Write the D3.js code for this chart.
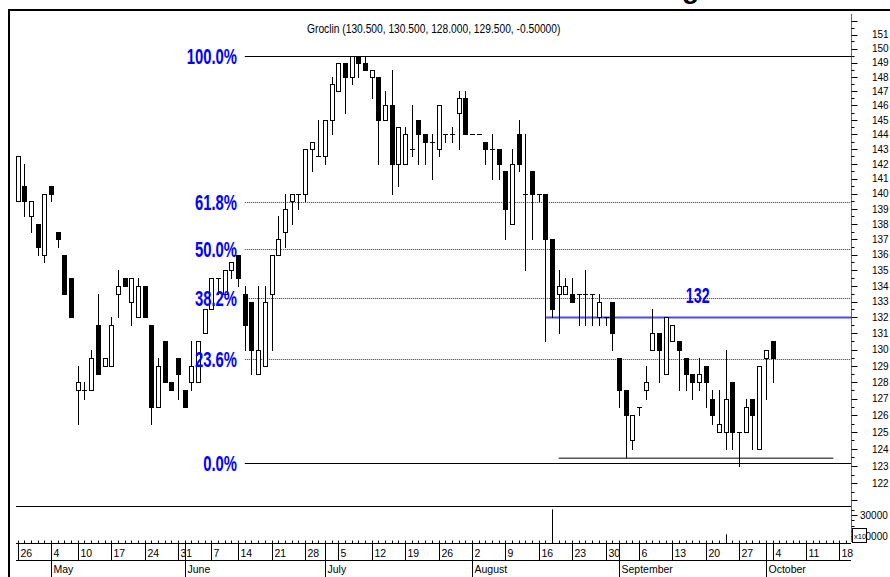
<!DOCTYPE html>
<html>
<head>
<meta charset="utf-8">
<script src="https://cdn.jsdelivr.net/npm/d3@7"></script>
<style>
  body { margin: 0; background: #fff; }
  svg { display: block; }
</style>
</head>
<body>
<div id="chart"></div>
<script>
// Groclin daily candles, 26 Apr - 4 Oct 2004
const openP = [
  139.5,140.5,138.5,138.0,136.0,140.5,137.5,136.0,134.5,127.5,
  127.5,127.5,131.5,129.0,129.0,133.5,134.5,133.0,132.0,134.0,
  131.5,126.5,130.5,128.0,129.5,127.5,128.0,128.0,131.0,132.5,
  134.5,133.5,135.0,136.0,133.5,133.0,128.5,129.0,133.5,136.0,
  137.5,139.5,140.0,140.0,143.0,142.5,142.5,145.0,147.0,149.0,
  148.0,149.5,149.0,148.0,148.0,145.0,146.0,142.0,142.0,143.0,
  145.0,144.0,143.5,143.0,144.0,144.0,145.5,146.5,144.0,144.0,
  143.5,143.0,143.0,141.5,138.0,144.0,140.0,141.5,140.0,140.0,
  137.0,133.5,133.5,133.5,133.5,133.5,133.5,132.0,132.0,133.0,
  129.5,127.5,124.5,126.5,127.5,130.0,131.0,128.5,130.5,130.5,
  129.5,128.5,128.0,129.0,127.0,125.0,125.0,128.0,125.0,125.0,
  127.0,124.0,129.5,130.5
];
const highP = [
  142.5,142.0,139.5,138.0,140.0,140.5,137.5,136.0,134.5,129.0,
  128.0,130.0,133.5,129.5,132.0,135.0,134.5,134.5,134.5,134.0,
  131.5,129.5,130.5,128.0,129.5,127.5,130.5,130.5,132.5,134.5,
  134.5,135.0,135.5,136.0,134.0,133.0,134.0,134.0,136.0,138.5,
  140.0,140.0,140.0,143.0,143.5,145.0,145.0,148.0,149.0,149.0,
  149.5,149.5,149.5,148.5,148.0,147.0,148.5,144.5,144.5,146.0,
  145.0,144.0,144.0,146.0,144.0,144.5,147.0,147.0,144.0,144.0,
  143.5,144.0,143.0,141.5,143.0,145.0,144.0,141.5,140.0,140.0,
  137.0,135.0,134.5,134.5,133.5,135.0,133.5,133.5,132.0,133.0,
  129.5,127.5,126.0,126.5,129.0,132.5,131.0,132.0,131.5,130.5,
  129.5,128.5,129.5,129.0,127.5,127.5,130.0,128.0,125.0,127.0,
  127.0,129.0,130.0,130.5
];
const lowP = [
  139.5,138.5,137.5,136.0,135.5,139.5,136.5,133.5,132.0,125.5,
  127.0,127.5,128.5,129.0,129.0,132.0,134.0,131.5,132.0,132.0,
  125.5,126.5,128.0,127.5,127.0,126.5,127.5,128.0,131.0,132.5,
  133.5,133.5,134.5,134.0,130.0,128.5,128.5,129.0,130.0,136.0,
  136.5,138.0,139.0,139.5,141.5,142.5,142.0,144.0,147.0,145.5,
  147.5,148.0,148.5,146.5,142.0,145.0,140.0,140.5,142.0,142.5,
  142.0,142.0,141.0,142.5,143.5,143.5,143.0,144.0,144.0,144.0,
  142.0,141.0,141.0,137.0,138.0,141.5,135.0,137.0,139.5,130.5,
  132.0,131.0,133.5,133.0,131.5,131.5,131.5,131.5,131.5,130.0,
  126.5,123.5,124.0,126.0,127.0,130.0,128.0,128.5,130.5,127.5,
  127.5,127.0,127.5,126.5,125.5,125.0,124.0,124.0,123.0,125.0,
  124.0,124.0,127.0,128.0
];
const closeP = [
  142.5,139.5,139.5,136.5,140.0,140.0,137.0,133.5,132.0,128.0,
  127.5,129.5,128.5,129.5,131.5,134.0,134.0,134.5,134.0,132.0,
  126.5,129.0,128.0,127.5,128.5,126.5,129.0,130.5,132.5,134.5,
  134.5,135.0,135.5,134.5,131.5,130.0,130.0,133.0,136.0,137.0,
  139.0,140.0,140.0,143.0,143.5,142.5,145.0,147.5,149.0,148.0,
  149.5,149.0,148.5,148.5,145.0,146.0,142.0,144.5,144.0,143.0,
  144.0,143.5,143.5,146.0,144.0,144.0,146.5,144.0,144.0,144.0,
  143.0,143.0,142.0,139.0,142.0,142.0,140.0,140.0,140.0,137.0,
  132.5,134.0,134.0,133.0,133.5,133.5,133.5,133.0,132.0,131.0,
  127.5,126.0,126.0,126.5,128.0,131.0,130.0,132.0,131.5,130.0,
  128.5,128.0,128.5,128.0,126.0,125.5,127.0,125.0,125.0,126.5,
  126.0,129.0,130.0,129.5
];

// volume (x10), only the bars that rise into view
const volDay = [80, 106];
const volValue = [32700, 20800];

const fibHigh = 149.5;
const fibLow = 123.2;
const fibLevels = [0, 0.236, 0.382, 0.5, 0.618, 1];
const fibNames = ["0.0%", "23.6%", "38.2%", "50.0%", "61.8%", "100.0%"];
const resistance = 132;
const supportLevel = 123.45;

const startDate = "2004-04-26";
const holidays = ["2004-05-03", "2004-06-10"];
const title = "Groclin (130.500, 130.500, 128.000, 129.500, -0.50000)";

const width = 890;
const height = 577;
const blue = "#0000ff";
const font = "'Liberation Sans', Arial, sans-serif";

// trading days (weekends + exchange holidays removed)
const parse = d3.timeParse("%Y-%m-%d");
const fmt = d3.timeFormat("%Y-%m-%d");
const days = [];
for (let d = parse(startDate); days.length < 126; d = d3.timeDay.offset(d, 1)) {
  const wd = d.getDay();
  if (wd === 0 || wd === 6 || holidays.includes(fmt(d))) continue;
  days.push(d);
}

const x = d3.scaleLinear().domain([-0.25, 124.75]).range([16, 851]);
const y = d3.scaleLog().domain([150, 123]).range([48.5, 466]);
const yv = d3.scaleLinear().domain([20000, 30000]).range([536, 515]);

const svg = d3.select("#chart").append("svg")
    .attr("width", width)
    .attr("height", height)
    .style("font-family", font);

svg.append("rect").attr("width", width).attr("height", height).attr("fill", "#fff");

// cut-off big title at the very top
svg.append("text")
    .attr("x", 682).attr("y", -2.5)
    .attr("font-size", 28).attr("font-weight", "bold")
    .text("g");

// frame
svg.append("line").attr("x1", 8).attr("x2", width).attr("y1", 10).attr("y2", 10)
    .attr("stroke", "#000").attr("stroke-width", 2);
svg.append("line").attr("x1", 9).attr("x2", 9).attr("y1", 9).attr("y2", height)
    .attr("stroke", "#000").attr("stroke-width", 2);

// title
svg.append("text")
    .attr("transform", "translate(307,33) scale(0.82,1)")
    .attr("font-size", 12.5)
    .text(title);

// fibonacci lines
const fib = fibLevels.map((lv, k) => ({
  lv, name: fibNames[k], price: fibLow + (fibHigh - fibLow) * lv
}));
const fibStart = x(34);

svg.append("g").selectAll("line")
  .data(fib)
  .join("line")
    .attr("x1", fibStart).attr("x2", 851)
    .attr("y1", d => Math.round(y(d.price)) + 0.5)
    .attr("y2", d => Math.round(y(d.price)) + 0.5)
    .attr("stroke", d => (d.lv === 0 || d.lv === 1) ? "#000" : "#333")
    .attr("stroke-dasharray", d => (d.lv === 0 || d.lv === 1) ? null : "1,1");

// 132 resistance
svg.append("line")
    .attr("x1", x(79.1)).attr("x2", 851)
    .attr("y1", y(resistance)).attr("y2", y(resistance))
    .attr("stroke", "#4848ff").attr("stroke-width", 2);

// support under the double bottom
svg.append("line")
    .attr("x1", x(81)).attr("x2", x(122.1))
    .attr("y1", y(supportLevel)).attr("y2", y(supportLevel))
    .attr("stroke", "#555").attr("stroke-width", 1.5);

// candles
const candles = openP.map((o, i) => ({ i, o, h: highP[i], l: lowP[i], c: closeP[i] }));
const cx = i => Math.round(x(i));
const gC = svg.append("g");

gC.selectAll("line.wick")
  .data(candles)
  .join("line")
    .attr("class", "wick")
    .attr("x1", d => cx(d.i) + 0.5).attr("x2", d => cx(d.i) + 0.5)
    .attr("y1", d => Math.round(y(d.h)))
    .attr("y2", d => Math.round(y(d.l)) + 1)
    .attr("stroke", "#000");

const bodies = candles.filter(d => Math.round(y(d.o)) !== Math.round(y(d.c)));
const dojis = candles.filter(d => Math.round(y(d.o)) === Math.round(y(d.c)));

gC.selectAll("rect.body")
  .data(bodies)
  .join("rect")
    .attr("class", "body")
    .attr("x", d => d.c > d.o ? cx(d.i) - 1.5 : cx(d.i) - 2)
    .attr("y", d => {
      const t = Math.round(y(Math.max(d.o, d.c)));
      return d.c > d.o ? t + 0.5 : t;
    })
    .attr("width", d => d.c > d.o ? 4 : 5)
    .attr("height", d => {
      const t = Math.round(y(Math.max(d.o, d.c)));
      const b = Math.round(y(Math.min(d.o, d.c)));
      return d.c > d.o ? b - t : b - t + 1;
    })
    .attr("fill", d => d.c > d.o ? "#fff" : "#000")
    .attr("stroke", d => d.c > d.o ? "#000" : "none");

gC.selectAll("line.doji")
  .data(dojis)
  .join("line")
    .attr("class", "doji")
    .attr("x1", d => cx(d.i) - 2).attr("x2", d => cx(d.i) + 3)
    .attr("y1", d => Math.round(y(d.c)) + 0.5)
    .attr("y2", d => Math.round(y(d.c)) + 0.5)
    .attr("stroke", "#000");

// level labels drawn over the candles
svg.append("g").selectAll("text")
  .data(fib)
  .join("text")
    .attr("transform", d => `translate(237,${y(d.price) + 8}) scale(0.69,1)`)
    .attr("text-anchor", "end")
    .attr("font-size", 21.5)
    .attr("font-weight", "bold")
    .attr("fill", blue)
    .text(d => d.name);

svg.append("text")
    .attr("transform", `translate(${x(101.8)},${y(resistance) - 14.5}) scale(0.66,1)`)
    .attr("text-anchor", "middle")
    .attr("font-size", 21.5).attr("font-weight", "bold")
    .attr("fill", blue)
    .text(String(resistance));

// price axis on the right
const axisX = 851.5;
svg.append("line").attr("x1", axisX).attr("x2", axisX).attr("y1", 14).attr("y2", 541)
    .attr("stroke", "#666");
const priceTicks = d3.range(121, 152.5, 0.5);
svg.append("g").selectAll("line")
  .data(priceTicks)
  .join("line")
    .attr("x1", axisX).attr("x2", d => d % 1 === 0 ? axisX + 6 : axisX + 3)
    .attr("y1", d => Math.round(y(d)) + 0.5).attr("y2", d => Math.round(y(d)) + 0.5)
    .attr("stroke", "#000");
svg.append("g").selectAll("text")
  .data(d3.range(122, 152))
  .join("text")
    .attr("x", 872).attr("y", d => y(d) + 3.8)
    .attr("font-size", 10)
    .text(d => d);

// volume panel
svg.append("line").attr("x1", 16).attr("x2", 851).attr("y1", 506.5).attr("y2", 506.5)
    .attr("stroke", "#000");
svg.append("g").selectAll("line")
  .data(volDay)
  .join("line")
    .attr("x1", d => cx(d) + 0.5).attr("x2", d => cx(d) + 0.5)
    .attr("y1", (d, k) => yv(volValue[k])).attr("y2", 541)
    .attr("stroke", "#000");
svg.append("g").selectAll("line")
  .data(d3.range(17500, 33000, 2500))
  .join("line")
    .attr("x1", axisX).attr("x2", d => d % 10000 === 0 ? axisX + 6 : axisX + 3)
    .attr("y1", d => Math.round(yv(d)) + 0.5).attr("y2", d => Math.round(yv(d)) + 0.5)
    .attr("stroke", "#000");
svg.append("g").selectAll("text")
  .data([30000, 20000])
  .join("text")
    .attr("x", 860).attr("y", d => yv(d) + 3.8)
    .attr("font-size", 10)
    .text(d => d);
svg.append("rect").attr("x", 852.5).attr("y", 528.5).attr("width", 14).attr("height", 14)
    .attr("fill", "#fff").attr("stroke", "#000");
svg.append("text").attr("x", 854).attr("y", 538.5).attr("font-size", 7.5).text("x10");

// date axis
const gD = svg.append("g");
const dayIdx = d3.range(0, 125);
gD.append("line").attr("x1", 16).attr("x2", 851).attr("y1", 543.5).attr("y2", 543.5).attr("stroke", "#000");
gD.append("line").attr("x1", 16).attr("x2", 851).attr("y1", 560.5).attr("y2", 560.5).attr("stroke", "#000");
gD.selectAll("line.dtick")
  .data(dayIdx)
  .join("line")
    .attr("class", "dtick")
    .attr("x1", d => cx(d) + 0.5).attr("x2", d => cx(d) + 0.5)
    .attr("y1", 540.5).attr("y2", 543.5)
    .attr("stroke", "#000");

const weekIdx = dayIdx.filter(i => i === 0 || days[i].getDay() <= days[i - 1].getDay());
const monthIdx = dayIdx.filter(i => i > 0 && days[i].getMonth() !== days[i - 1].getMonth());

gD.selectAll("line.wtick")
  .data(weekIdx)
  .join("line")
    .attr("class", "wtick")
    .attr("x1", d => cx(d) + 0.5).attr("x2", d => cx(d) + 0.5)
    .attr("y1", 543).attr("y2", 560.5)
    .attr("stroke", "#000");
gD.selectAll("text.wlab")
  .data(weekIdx)
  .join("text")
    .attr("class", "wlab")
    .attr("x", d => cx(d) + 2.5).attr("y", 556.5)
    .attr("font-size", 10.5)
    .text(d => days[d].getDate());

gD.selectAll("line.mtick")
  .data(monthIdx)
  .join("line")
    .attr("class", "mtick")
    .attr("x1", d => cx(d) + 0.5).attr("x2", d => cx(d) + 0.5)
    .attr("y1", 543).attr("y2", height)
    .attr("stroke", "#000");
gD.selectAll("text.mlab")
  .data(monthIdx)
  .join("text")
    .attr("class", "mlab")
    .attr("x", d => cx(d) + 2.5).attr("y", 573)
    .attr("font-size", 10.5)
    .text(d => d3.timeFormat("%B")(days[d]));
</script>
</body>
</html>
